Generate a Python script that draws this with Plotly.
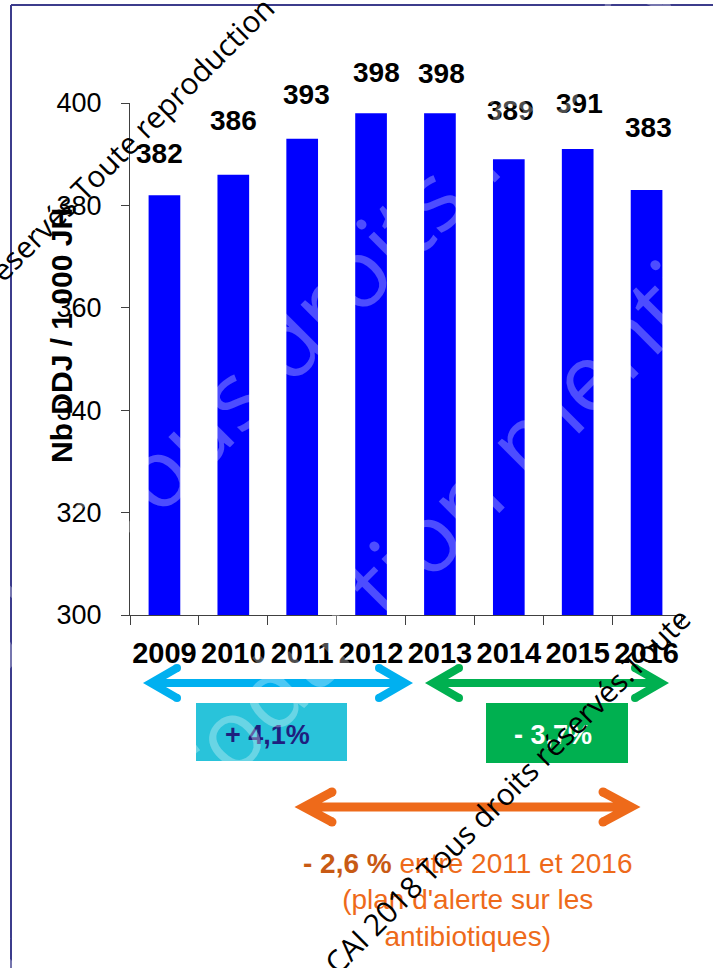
import plotly.graph_objects as go

# Consumption of antibiotics, number of DDJ per 1 000 JH
YEARS = ["2009", "2010", "2011", "2012", "2013", "2014", "2015", "2016"]
DDJ = [382, 386, 393, 398, 398, 389, 391, 383]
Y_TICKS = [300, 320, 340, 360, 380, 400]

# Per-label placement above each bar (pixels)
LABEL_LIFT = [32, 45, 35, 31, 30, 39, 36, 53]
LABEL_NUDGE = [-5, 0, 4, 5, 2, 2, 2, 2]

W, H = 713, 968
L, R, T, B = 130, 32, 103, 353
PW, PH = W - L - R, H - T - B


def px(x):
    return (x - L) / PW


def py(y):
    return (H - B - y) / PH


BASE_FONT = "Arial, Liberation Sans, sans-serif"
BAR_BLUE = "#0000FF"
CYAN = "#00B0F0"
GREEN = "#00B050"
ORANGE = "#EE6A1A"

fig = go.Figure()
fig.add_trace(go.Bar(
    x=YEARS, y=DDJ, marker=dict(color=BAR_BLUE, line=dict(width=0)),
    hoverinfo="skip", showlegend=False,
))

annotations = []
shapes = []

# value labels above bars (category index on the x axis)
for i, (v, lift, dx) in enumerate(zip(DDJ, LABEL_LIFT, LABEL_NUDGE)):
    annotations.append(dict(
        x=i, y=v, xref="x", yref="y", text=str(round(v)), showarrow=False,
        xanchor="center", yanchor="bottom", yshift=lift - 8, xshift=dx,
        font=dict(family=BASE_FONT, size=28, color="black", weight="bold"),
    ))

# vertical axis title
annotations.append(dict(
    x=px(61), y=py(336), xref="paper", yref="paper", text="Nb DDJ / 1 000 JH",
    textangle=-90, showarrow=False, xanchor="center", yanchor="middle",
    font=dict(family=BASE_FONT, size=30, color="black", weight="bold"),
))


def arrow(x0, x1, y, color, width, hx, hy):
    inset = width
    a0, a1 = x0 + inset, x1 - inset
    path = (
        f"M{px(a0 + hx)},{py(y - hy)} L{px(a0)},{py(y)} L{px(a0 + hx)},{py(y + hy)} "
        f"M{px(a0)},{py(y)} L{px(a1)},{py(y)} "
        f"M{px(a1 - hx)},{py(y - hy)} L{px(a1)},{py(y)} L{px(a1 - hx)},{py(y + hy)}"
    )
    shapes.append(dict(type="path", xref="paper", yref="paper", path=path,
                       line=dict(color=color, width=width),
                       fillcolor="rgba(0,0,0,0)"))
    r = width / 2
    for cx, cy in [(a0 + hx, y - hy), (a0 + hx, y + hy), (a1 - hx, y - hy), (a1 - hx, y + hy)]:
        shapes.append(dict(type="circle", xref="paper", yref="paper",
                           x0=px(cx - r), x1=px(cx + r), y0=py(cy + r), y1=py(cy - r),
                           fillcolor=color, line=dict(width=0)))


def box(x0, x1, y0, y1, color):
    shapes.append(dict(type="rect", xref="paper", yref="paper",
                       x0=px(x0), x1=px(x1), y0=py(y1), y1=py(y0),
                       fillcolor=color, line=dict(width=0)))


# period arrows and variation boxes
arrow(143, 413, 683, CYAN, 8, 26, 15)
arrow(425, 669, 683, GREEN, 8, 26, 15)
arrow(295, 640, 807, ORANGE, 9, 28, 15)
box(196, 347, 703, 761, "#29C3DA")
box(486, 628, 703, 763, GREEN)

annotations.append(dict(
    x=px(267), y=py(735), xref="paper", yref="paper", text="+ 4,1%", showarrow=False,
    xanchor="center", yanchor="middle",
    font=dict(family=BASE_FONT, size=27, color="#1F1F7F", weight="bold"),
))
annotations.append(dict(
    x=px(553), y=py(735), xref="paper", yref="paper", text="- 3,7%", showarrow=False,
    xanchor="center", yanchor="middle",
    font=dict(family=BASE_FONT, size=27, color="white", weight="bold"),
))
annotations.append(dict(
    x=px(468), y=py(900), xref="paper", yref="paper",
    text=("<span style='color:#C85A14'><b>- 2,6 %</b></span> entre 2011 et 2016<br>"
          "(plan d'alerte sur les<br>antibiotiques)"),
    showarrow=False, xanchor="center", yanchor="middle", align="center",
    font=dict(family=BASE_FONT, size=28, color=ORANGE),
))

# frame lines
shapes.append(dict(type="line", xref="paper", yref="paper",
                   x0=px(11), x1=px(713), y0=py(5), y1=py(5),
                   line=dict(color="#3C3C8C", width=2)))
shapes.append(dict(type="line", xref="paper", yref="paper",
                   x0=px(11), x1=px(11), y0=py(5), y1=py(968),
                   line=dict(color="#3C3C8C", width=2)))

# copyright marks
WM_FONT = "Open Sans, sans-serif"
for text, cx, cy, size, color in [
    ("2018 Tous droits réservés", 326, 299, 95, "rgba(255,255,255,0.3)"),
    ("Toute reproduction mentionnée", 378, 582, 95, "rgba(255,255,255,0.3)"),
    ("réservés Toute reproduction", 127, 143, 30, "black"),
    ("CAI 2018 Tous droits réservés.Toute", 507, 790, 30, "black"),
]:
    annotations.append(dict(
        x=px(cx), y=py(cy), xref="paper", yref="paper", text=text, showarrow=False,
        textangle=-45, xanchor="center", yanchor="middle",
        font=dict(family=WM_FONT, size=size, color=color),
    ))

fig.update_layout(
    width=W, height=H,
    margin=dict(l=L, r=R, t=T, b=B, pad=0),
    paper_bgcolor="white", plot_bgcolor="white",
    bargap=0.54,
    annotations=annotations, shapes=shapes,
    xaxis=dict(
        type="category", categoryorder="array", categoryarray=YEARS,
        range=[-0.5, len(YEARS) - 0.5], autorange=False,
        showgrid=False, showline=True, linecolor="#404040", linewidth=1,
        ticks="outside", tickson="boundaries", ticklen=9, tickcolor="#404040",
        tickfont=dict(family=BASE_FONT, size=29, color="black", weight="bold"),
        tickangle=0, ticklabelstandoff=12, zeroline=False,
    ),
    yaxis=dict(
        range=[300, 400], autorange=False, tickvals=Y_TICKS, showgrid=False, showline=True,
        linecolor="#404040", linewidth=1, ticks="outside", ticklen=8, tickcolor="#404040",
        tickfont=dict(family=BASE_FONT, size=27, color="black"),
        ticklabelstandoff=14, zeroline=False,
    ),
)

fig.write_html("out.html")
